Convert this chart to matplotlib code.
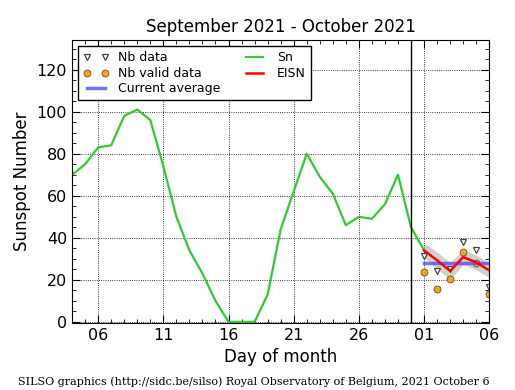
"""
Daily sunspot number, September 2021 - October 2021 (SILSO style plot).
"""

import numpy as np
import matplotlib
matplotlib.use("Agg")
import matplotlib.pyplot as plt
from matplotlib.ticker import MultipleLocator


# ---------------------------------------------------------------------
# Data (day index counted from 1 September 2021)
# ---------------------------------------------------------------------

sn_days = list(range(4, 32))
sn_values = [70, 75, 83, 84, 98, 101, 96, 74, 50, 34, 23, 10, 0, 0, 0,
             13, 44, 62, 80, 69, 61, 46, 50, 49, 56, 70, 45, 34]

oct_days = [31, 32, 33, 34, 35, 36]
nb_data = [31.3, 24.2, 25.3, 38.1, 34.0, 16.4]
nb_valid = [23.8, 15.8, 20.6, 33.0, 27.8, 13.1]
eisn = [34.0, 29.3, 24.2, 30.8, 28.3, 24.5]
eisn_err = [3.5, 4.0, 4.0, 3.5, 3.5, 3.5]
current_average = 27.8

tick_days = [6, 11, 16, 21, 26, 31, 36]
tick_labels = ["06", "11", "16", "21", "26", "01", "06"]


# ---------------------------------------------------------------------
# Plot
# ---------------------------------------------------------------------

plt.rcParams["xtick.direction"] = "in"
plt.rcParams["ytick.direction"] = "in"

fig = plt.figure(figsize=(5.15, 3.9), dpi=100)
ax = fig.add_axes([0.140, 0.172, 0.810, 0.725])

lo = np.array(eisn) - np.array(eisn_err)
hi = np.array(eisn) + np.array(eisn_err)
ax.fill_between(oct_days, lo, hi, color="#b8b8b8", alpha=0.65, lw=0)

ax.plot(sn_days, sn_values, color="#2ecc2e", lw=1.6, label="Sn")

h_nb, = ax.plot(oct_days, nb_data, "v", ls="none", ms=4.5,
                mfc="white", mec="#444444", mew=0.9, label="Nb data")
h_valid, = ax.plot(oct_days, nb_valid, "o", ls="none", ms=5,
                   mfc="#ffa500", mec="#555555", mew=0.6,
                   label="Nb valid data")
h_avg, = ax.plot([oct_days[0], oct_days[-1]],
                 [current_average, current_average],
                 color="#5050ff", lw=2.5, alpha=0.8,
                 label="Current average")
h_eisn, = ax.plot(oct_days, eisn, color="red", lw=1.8, label="EISN")

ax.axvline(30, color="black", lw=1)

h_sn = ax.get_lines()[0]

ax.set_xlim(4, 36)
ax.set_ylim(-0.5, 134)

ax.set_xticks(tick_days)
ax.set_xticklabels(tick_labels)
ax.xaxis.set_minor_locator(MultipleLocator(1))
ax.yaxis.set_major_locator(MultipleLocator(20))
ax.yaxis.set_minor_locator(MultipleLocator(5))

ax.tick_params(which="both", top=True, right=True, labelsize=11.5)
ax.tick_params(which="major", length=6)
ax.tick_params(which="minor", length=3)

ax.grid(True, which="major", color="black", ls=":", lw=0.6)

ax.set_xlabel("Day of month", fontsize=12)
ax.set_ylabel("Sunspot Number", fontsize=12)
ax.set_title("September 2021 - October 2021", fontsize=12)

leg = ax.legend(
    [h_nb, h_valid, h_avg, h_sn, h_eisn],
    ["Nb data", "Nb valid data", "Current average", "Sn", "EISN"],
    loc="upper left",
    ncol=2,
    numpoints=2,
    fontsize=9,
    fancybox=False,
    framealpha=1,
    handlelength=2.0,
    columnspacing=1.7,
    labelspacing=0.2,
)
leg.get_frame().set_edgecolor("black")

fig.text(0.035, 0.012,
         "SILSO graphics (http://sidc.be/silso) Royal Observatory of "
         "Belgium, 2021 October 6",
         family="DejaVu Serif", fontsize=8)

fig.savefig("out.png", dpi=100)
